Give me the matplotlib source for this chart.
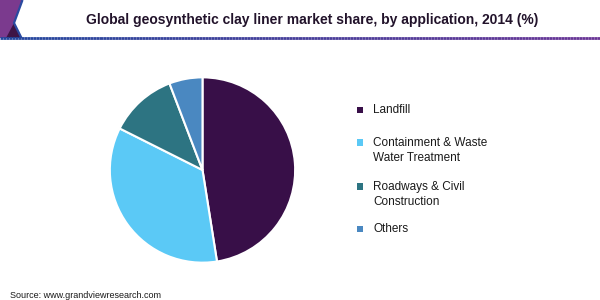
import matplotlib
matplotlib.use("Agg")
import matplotlib.pyplot as plt
from matplotlib.patches import Polygon, Rectangle
from matplotlib.collections import LineCollection
from matplotlib.colors import LinearSegmentedColormap
import numpy as np

plt.rcParams['font.family'] = ['Liberation Sans', 'DejaVu Sans']

categories = ["Landfill", "Containment & Waste\nWater Treatment",
              "Roadways & Civil\nConstruction", "Others"]
values = [47.5, 34.9, 11.8, 5.8]
colors = ["#380f48", "#5bc9f6", "#2d7482", "#4a88c1"]

W, H = 600, 300
fig = plt.figure(figsize=(6, 3), dpi=100)
fig.patch.set_facecolor("white")

# header decoration
deco = fig.add_axes([0, 0, 1, 1], zorder=0)
deco.set_xlim(0, W)
deco.set_ylim(H, 0)
deco.axis("off")
deco.add_patch(Polygon([(0, 0), (22.5, 0), (14, 23), (21.5, 38), (0, 38)],
                       closed=True, facecolor="#7b3a8e", edgecolor="none"))
deco.add_patch(Polygon([(14, 23), (21.5, 38), (6, 38)],
                       closed=True, facecolor="#3e1446", edgecolor="none"))
deco.plot([22.5, 14, 21.5], [0, 23, 38], color="#2a4aa0", lw=1.6, solid_capstyle="butt")
xs = np.linspace(0, W, 200)
segs = [[(xs[i], 38.3), (xs[i + 1], 38.3)] for i in range(len(xs) - 1)]
cmap = LinearSegmentedColormap.from_list("g", ["#23479e", "#6a3596"])
lc = LineCollection(segs, colors=cmap(np.linspace(0, 1, len(segs))), linewidths=2)
deco.add_collection(lc)

fig.text(312 / W, 1 - 20 / H,
         "Global geosynthetic clay liner market share, by application, 2014 (%)",
         ha="center", va="center", fontsize=10, fontweight="bold", color="#22132b")

# pie
cx, cy, r = 202.5, 170, 94.5
ax = fig.add_axes([(cx - r) / W, (H - cy - r) / H, 2 * r / W, 2 * r / H])
ax.pie(values, colors=colors, startangle=90, counterclock=False, radius=1,
       wedgeprops=dict(edgecolor="white", linewidth=1.5))
ax.set_xlim(-1.02, 1.02)
ax.set_ylim(-1.02, 1.02)
ax.set_aspect("equal")
ax.axis("off")

# legend
ys = [110, 150, 194, 229]
for lab, col, y in zip(categories, colors, ys):
    nlines = lab.count("\n") + 1
    ytop = y - (nlines - 1) * 7.5
    deco.add_patch(Rectangle((356.5, ytop - 3.2), 6.5, 6.5, facecolor=col,
                             edgecolor="none"))
    if nlines == 1:
        deco.text(373, ytop, lab, ha="left", va="center", fontsize=8.5,
                  color="#1a1a1a", linespacing=1.35)
    else:
        deco.text(373, ytop - 5.5, lab, ha="left", va="top", fontsize=8.5,
                  color="#1a1a1a", linespacing=1.35)

fig.text(10 / W, 1 - 295 / H, "Source: www.grandviewresearch.com",
         ha="left", va="center", fontsize=6.5, color="#1a1a1a")

fig.savefig("out.png", dpi=100, facecolor="white")
